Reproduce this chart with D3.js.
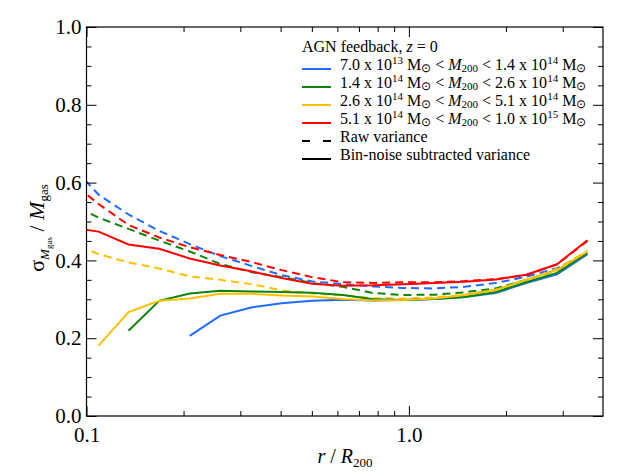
<!DOCTYPE html>
<html lang="en">
<head>
    <meta charset="UTF-8">
    <script src="https://d3js.org/d3.v7.min.js"></script>
    <style>
        body { margin: 0; background: #fff; }
        text { font-family: "Liberation Serif", "Times New Roman", serif; }
    </style>
    <title>D3.js</title>
</head>
<body>
    <script type="text/javascript">
    // radial bins (r / R200), the first one sits just left of the axis
    const rBins = [0.0873, 0.109, 0.135, 0.168, 0.209, 0.260, 0.324, 0.403, 0.501,
                   0.624, 0.776, 0.965, 1.20, 1.49, 1.86, 2.31, 2.88, 3.58];

    // raw variance (dashed)
    const rawBlue   = [0.655, 0.569, 0.518, 0.476, 0.442, 0.411, 0.386, 0.362, 0.346, 0.339, 0.333, 0.329, 0.328, 0.332, 0.342, 0.358, 0.380, 0.420];
    const rawGreen  = [0.549, 0.510, 0.481, 0.451, 0.423, 0.391, 0.370, 0.357, 0.342, 0.332, 0.316, 0.311, 0.312, 0.318, 0.328, 0.350, 0.375, 0.420];
    const rawYellow = [0.449, 0.416, 0.395, 0.379, 0.359, 0.350, 0.339, 0.323, 0.315, 0.310, 0.303, 0.302, 0.305, 0.312, 0.325, 0.350, 0.378, 0.425];
    const rawRed    = [0.609, 0.545, 0.491, 0.459, 0.434, 0.414, 0.396, 0.375, 0.357, 0.344, 0.342, 0.344, 0.344, 0.347, 0.352, 0.362, 0.390, 0.450];

    // bin-noise subtracted variance (solid)
    const subBlue   = [null, null, null, null, 0.206, 0.258, 0.279, 0.290, 0.296, 0.299, 0.297, 0.298, 0.301, 0.306, 0.316, 0.342, 0.364, 0.416];
    const subGreen  = [null, null, 0.219, 0.296, 0.315, 0.322, 0.320, 0.319, 0.317, 0.311, 0.300, 0.298, 0.301, 0.306, 0.319, 0.344, 0.368, 0.419];
    const subYellow = [null, 0.181, 0.267, 0.296, 0.302, 0.314, 0.314, 0.310, 0.307, 0.301, 0.297, 0.298, 0.302, 0.311, 0.324, 0.350, 0.375, 0.423];
    const subRed    = [0.486, 0.474, 0.441, 0.430, 0.405, 0.387, 0.372, 0.355, 0.340, 0.335, 0.336, 0.339, 0.342, 0.345, 0.351, 0.363, 0.390, 0.452];

    // mass bins for the legend
    const binLow     = ["7.0", "1.4", "2.6", "5.1"];
    const binLowExp  = ["13", "14", "14", "14"];
    const binHigh    = ["1.4", "2.6", "5.1", "1.0"];
    const binHighExp = ["14", "14", "14", "15"];
    const colors = ["#1f6bff", "#0b850b", "#ffc000", "#ff0000"];

    const yMajor = [0.0, 0.2, 0.4, 0.6, 0.8, 1.0];
    const yMinor = [0.05, 0.1, 0.15, 0.25, 0.3, 0.35, 0.45, 0.5, 0.55, 0.65, 0.7, 0.75, 0.85, 0.9, 0.95];
    const xMajor = [0.1, 1.0];
    const xMinor = [0.2, 0.3, 0.4, 0.5, 0.6, 0.7, 0.8, 0.9, 2, 3];

    const w = 629, h = 472;
    const pLeft = 86.5, pRight = 603, pTop = 27, pBottom = 416;

    const x = d3.scaleLog().domain([0.1, 4.0]).range([pLeft, pRight]);
    const y = d3.scaleLinear().domain([0, 1]).range([pBottom, pTop]);

    const svg = d3.select("body").append("svg")
        .attr("width", w)
        .attr("height", h);

    svg.append("clipPath").attr("id", "plot")
        .append("rect")
        .attr("x", pLeft).attr("y", pTop)
        .attr("width", pRight - pLeft).attr("height", pBottom - pTop);

    // curves
    const line = d3.line()
        .defined(d => d[1] !== null)
        .x(d => x(d[0]))
        .y(d => y(d[1]));

    const rawSeries = [rawBlue, rawGreen, rawYellow, rawRed];
    const subSeries = [subBlue, subGreen, subYellow, subRed];
    const g = svg.append("g").attr("clip-path", "url(#plot)");

    rawSeries.forEach(function(s, i) {
        g.append("path")
            .attr("d", line(rBins.map((r, j) => [r, s[j]])))
            .attr("fill", "none")
            .attr("stroke", colors[i])
            .attr("stroke-width", 2)
            .attr("stroke-dasharray", "8,5");
    });
    subSeries.forEach(function(s, i) {
        g.append("path")
            .attr("d", line(rBins.map((r, j) => [r, s[j]])))
            .attr("fill", "none")
            .attr("stroke", colors[i])
            .attr("stroke-width", 2);
    });

    // axes, ticks pointing inwards on all four sides
    function ticks(axis, values, size, fmt) {
        return axis.tickValues(values).tickSizeInner(-size).tickSizeOuter(0)
            .tickFormat(fmt || "");
    }
    const axes = [
        [() => d3.axisBottom(x), "translate(0," + pBottom + ")", xMajor, xMinor, d => d.toFixed(1), 11],
        [() => d3.axisTop(x), "translate(0," + pTop + ")", xMajor, xMinor, null, 0],
        [() => d3.axisLeft(y), "translate(" + pLeft + ",0)", yMajor, yMinor, d => d.toFixed(1), 5],
        [() => d3.axisRight(y), "translate(" + pRight + ",0)", yMajor, yMinor, null, 0]
    ];
    axes.forEach(function(a) {
        const major = svg.append("g").attr("transform", a[1])
            .call(ticks(a[0](), a[2], 10, a[4]).tickPadding(a[5]));
        const minor = svg.append("g").attr("transform", a[1])
            .call(ticks(a[0](), a[3], 5, null));
        [major, minor].forEach(function(sel) {
            sel.attr("font-family", null).attr("font-size", null);
            sel.select(".domain").remove();
            sel.selectAll("line").attr("stroke", "#000");
            sel.selectAll("text")
                .attr("font-size", 21)
                .attr("fill", "#000");
        });
    });

    svg.append("rect")
        .attr("x", pLeft).attr("y", pTop)
        .attr("width", pRight - pLeft).attr("height", pBottom - pTop)
        .attr("fill", "none")
        .attr("stroke", "#000")
        .attr("stroke-width", 1.2);

    // rich text helper: parts with optional italic, size and vertical shift
    function rich(sel, parts) {
        let shift = 0;
        parts.forEach(function(p) {
            const s = p.s || 0;
            const ts = sel.append("tspan").text(p.t).attr("dy", s - shift);
            shift = s;
            if (p.i) ts.attr("font-style", "italic");
            if (p.f) ts.attr("font-size", p.f);
        });
        return sel;
    }

    // axis titles
    rich(svg.append("text")
        .attr("x", 345).attr("y", 463)
        .attr("text-anchor", "middle")
        .attr("font-size", 20)
        .style("white-space", "pre"),
        [{t: "r", i: 1}, {t: " / "}, {t: "R", i: 1}, {t: "200", s: 4, f: 13}]);

    rich(svg.append("text")
        .attr("transform", "translate(44,228) rotate(-90)")
        .attr("text-anchor", "middle")
        .attr("font-size", 22)
        .style("white-space", "pre"),
        [{t: "σ"}, {t: "M", i: 1, s: 5, f: 13}, {t: "gas", s: 8, f: 9},
         {t: " / "}, {t: "M", i: 1}, {t: "gas", s: 4, f: 13}]);

    // legend
    const lx = 302, tx = 340, rowY = [69, 87, 105, 123, 141, 159];
    rich(svg.append("text")
        .attr("x", lx).attr("y", 52)
        .attr("font-size", 16)
        .style("white-space", "pre"),
        [{t: "AGN feedback, "}, {t: "z", i: 1}, {t: " = 0"}]);

    binLow.forEach(function(lo, i) {
        svg.append("line")
            .attr("x1", lx).attr("x2", lx + 29)
            .attr("y1", rowY[i]).attr("y2", rowY[i])
            .attr("stroke", colors[i]).attr("stroke-width", 2);
        rich(svg.append("text")
            .attr("x", tx).attr("y", rowY[i] + 1)
            .attr("font-size", 16)
            .style("white-space", "pre"),
            [{t: lo + " x 10"}, {t: binLowExp[i], s: -6, f: 11}, {t: " M"},
             {t: "⊙", s: 2, f: 12}, {t: " < "}, {t: "M", i: 1}, {t: "200", s: 2, f: 11},
             {t: " < " + binHigh[i] + " x 10"}, {t: binHighExp[i], s: -6, f: 11},
             {t: " M"}, {t: "⊙", s: 2, f: 12}]);
    });

    ["Raw variance", "Bin-noise subtracted variance"].forEach(function(label, i) {
        svg.append("line")
            .attr("x1", lx).attr("x2", lx + 29)
            .attr("y1", rowY[4 + i]).attr("y2", rowY[4 + i])
            .attr("stroke", "#000").attr("stroke-width", 2)
            .attr("stroke-dasharray", i === 0 ? "8,13" : null);
        svg.append("text")
            .attr("x", tx).attr("y", rowY[4 + i] + 1)
            .attr("font-size", 16)
            .text(label);
    });
    </script>
</body>
</html>
